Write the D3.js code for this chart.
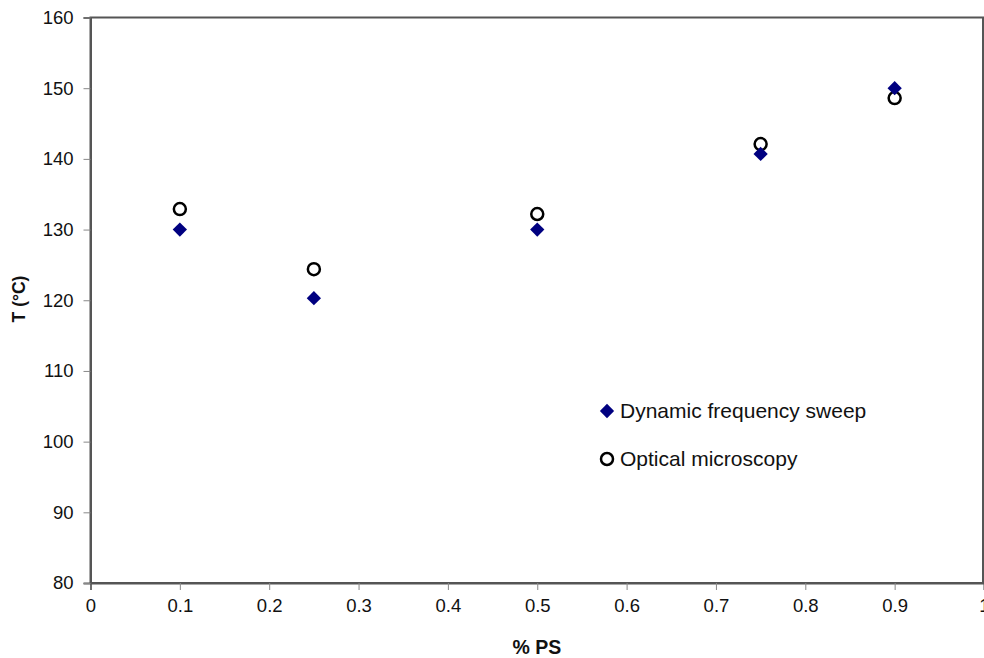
<!DOCTYPE html>
<html>
<head>
<meta charset="utf-8">
<script src="https://cdn.jsdelivr.net/npm/d3@7"></script>
<style>
  body { margin: 0; background: #fff; }
  svg { display: block; font-family: "Liberation Sans", Arial, sans-serif; }
</style>
</head>
<body>
<svg id="chart" width="984" height="658"></svg>
<script>
const psFraction = [0.1, 0.25, 0.5, 0.75, 0.9];
const dynamicSweep = [130, 120.3, 130, 140.7, 150];
const opticalMicro = [132.9, 124.4, 132.2, 142.1, 148.6];
const xTicks = [0, 0.1, 0.2, 0.3, 0.4, 0.5, 0.6, 0.7, 0.8, 0.9, 1];
const yTicks = [80, 90, 100, 110, 120, 130, 140, 150, 160];

const width = 984;
const height = 658;
const margin = {top: 17.5, right: 0, bottom: 75, left: 90.5};

const svg = d3.select('#chart');

const x = d3.scaleLinear()
  .domain([0, 1])
  .range([margin.left, 984]);

const y = d3.scaleLinear()
  .domain([80, 160])
  .range([height - margin.bottom, margin.top]);

const axisColor = '#555';

// plot box
svg.append('rect')
  .attr('x', x(0))
  .attr('y', y(160))
  .attr('width', x(1) - x(0) - 1)
  .attr('height', y(80) - y(160))
  .attr('fill', 'none')
  .attr('stroke', axisColor)
  .attr('stroke-width', 2);

svg.append('g')
  .attr('transform', `translate(0,${y(80)})`)
  .call(d3.axisBottom(x).tickValues(xTicks).tickFormat(d => d).tickSizeOuter(0).tickSize(7).tickPadding(9))
  .call(g => g.select('.domain').attr('stroke', axisColor).attr('stroke-width', 2))
  .call(g => g.selectAll('.tick line').attr('stroke', '#888'))
  .call(g => g.selectAll('.tick text').attr('font-size', 18.5).attr('fill', '#111').attr('font-family', null));

svg.append('g')
  .attr('transform', `translate(${x(0)},0)`)
  .call(d3.axisLeft(y).tickValues(yTicks).tickSizeOuter(0).tickSize(7).tickPadding(10))
  .call(g => g.select('.domain').attr('stroke', axisColor).attr('stroke-width', 2))
  .call(g => g.selectAll('.tick line').attr('stroke', '#888'))
  .call(g => g.selectAll('.tick text').attr('font-size', 18.5).attr('fill', '#111').attr('font-family', null));

// axis titles
svg.append('text')
  .attr('x', 537)
  .attr('y', 654)
  .attr('text-anchor', 'middle')
  .attr('font-size', 19.5)
  .attr('font-weight', 'bold')
  .attr('fill', '#111')
  .text('% PS');

svg.append('text')
  .attr('transform', `translate(25,299) rotate(-90)`)
  .attr('text-anchor', 'middle')
  .attr('font-size', 17.5)
  .attr('font-weight', 'bold')
  .attr('fill', '#111')
  .text('T (°C)');

const diamond = d3.symbol().type(d3.symbolDiamond2).size(130);

// circles
svg.append('g')
  .selectAll('circle')
  .data(psFraction)
  .join('circle')
  .attr('cx', d => x(d))
  .attr('cy', (d, i) => y(opticalMicro[i]))
  .attr('r', 6)
  .attr('fill', 'none')
  .attr('stroke', '#000')
  .attr('stroke-width', 2.5);

// diamonds
svg.append('g')
  .selectAll('path')
  .data(psFraction)
  .join('path')
  .attr('transform', (d, i) => `translate(${x(d)},${y(dynamicSweep[i])})`)
  .attr('d', diamond)
  .attr('fill', '#000080');

// legend
const legend = svg.append('g').attr('transform', 'translate(607,0)');
legend.append('path')
  .attr('transform', 'translate(0,411)')
  .attr('d', diamond)
  .attr('fill', '#000080');
legend.append('text')
  .attr('x', 13)
  .attr('y', 418)
  .attr('font-size', 21)
  .attr('fill', '#111')
  .text('Dynamic frequency sweep');
legend.append('circle')
  .attr('cx', 0)
  .attr('cy', 459)
  .attr('r', 6)
  .attr('fill', 'none')
  .attr('stroke', '#000')
  .attr('stroke-width', 2.5);
legend.append('text')
  .attr('x', 13)
  .attr('y', 466)
  .attr('font-size', 21)
  .attr('fill', '#111')
  .text('Optical microscopy');
</script>
</body>
</html>
